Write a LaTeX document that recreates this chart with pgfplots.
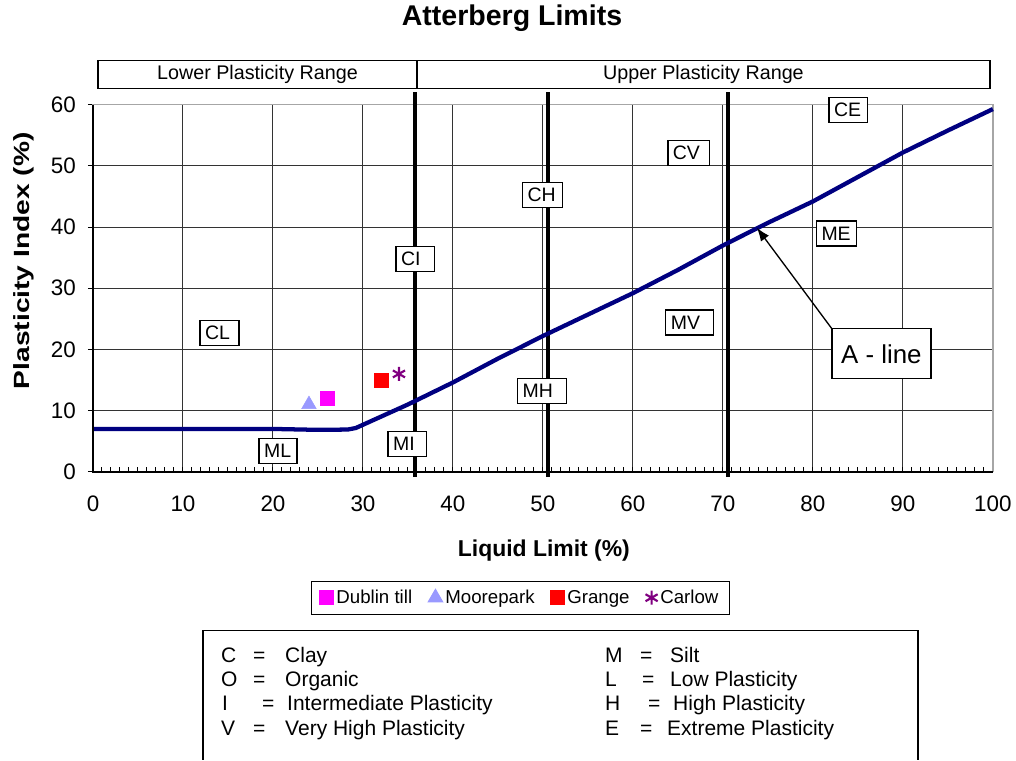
\documentclass[border=0pt]{standalone}
\usepackage{fontspec}
\setmainfont{Liberation Sans}
\usepackage{graphicx}
\usepackage{pgfplots}
\pgfplotsset{compat=1.18}
\usetikzlibrary{arrows.meta}
\definecolor{aline}{RGB}{0,0,128}
\definecolor{dublin}{RGB}{255,0,255}
\definecolor{moore}{RGB}{153,153,255}
\definecolor{grange}{RGB}{255,0,0}
\definecolor{carlow}{RGB}{128,0,128}
\newcommand{\fs}[1]{\fontsize{#1}{#1}\selectfont}
% label box: x, y, text, text width (pt)
\newcommand{\lbl}[4]{\node[draw=black, line width=1pt, fill=white, font=\fs{14.6pt}, inner xsep=3.8pt, inner ysep=0pt, minimum height=18.75pt, text width=#4, align=left] at (axis cs:#1,#2) {#3};}

\begin{document}
\begin{tikzpicture}
\begin{scope}[x=0.75pt,y=0.75pt]
\useasboundingbox (0,0) rectangle (1016,758);
\end{scope}
\begin{axis}[
  at={(69.75pt,216pt)}, anchor=south west,
  scale only axis, width=675pt, height=275.25pt,
  xmin=0, xmax=100, ymin=0, ymax=60,
  xtick={0,10,...,100}, ytick={0,10,...,60},
  minor x tick num=9,
  xtick pos=bottom, ytick pos=left,
  tick align=inside,
  major tick length=3.75pt, minor tick length=3.75pt,
  tick style={black, line width=0.75pt},
  ytick style={xshift=-3.75pt},
  grid=major,
  major grid style={black!80, line width=0.75pt},
  axis line style={gray!70, line width=1pt},
  clip=false,
  /pgf/number format/assume math mode=true,
  tick label style={font=\fs{16.8pt}},
  xticklabel style={yshift=-14.6pt},
  yticklabel style={xshift=-9.4pt},
  title={Atterberg Limits},
  title style={at={(axis description cs:0.4656,1.2153)}, anchor=center, font=\bfseries\fs{21.4pt}},
  xlabel={Liquid Limit (\%)},
  xlabel style={at={(axis description cs:0.501,-0.2153)}, anchor=center, font=\bfseries\fs{17.2pt}},
  ylabel={\scalebox{1.28}[1]{Plasticity Index (\%)}},
  ylabel style={at={(axis description cs:-0.0767,0.575)}, anchor=center, font=\bfseries\fs{16.5pt}},
  legend style={at={(axis description cs:0.475,-0.3433)}, anchor=center, draw=black, line width=0.75pt,
    font=\fs{14pt}, legend columns=4, inner xsep=6pt, inner ysep=4.5pt,
    /tikz/every even column/.append style={column sep=10pt}},
  legend image code/.code={\draw[mark repeat=2,mark phase=2,#1] plot coordinates {(0cm,0cm) (0.15cm,0cm) (0.3cm,0cm)};},
]
% thick classification boundaries
\addplot[black, line width=3.4pt, forget plot] coordinates {(35.78,-0.8) (35.78,62.1)};
\addplot[black, line width=3.4pt, forget plot] coordinates {(50.55,-0.8) (50.55,62.1)};
\addplot[black, line width=3.4pt, forget plot] coordinates {(70.55,-0.8) (70.55,62.1)};
% A-line
\addplot[aline, line width=3.2pt, line join=round, forget plot] coordinates {
(0,7) (20,7) (25,6.85) (28.3,6.9) (29.2,7.15) (35,11.0) (40,14.6) (45,18.5) (50,22.2)
(55,25.7) (60,29.2) (65,33.0) (70,37.0) (75,40.7) (80,44.2) (85,48.2) (90,52.2) (95,55.8) (100,59.3)};
% samples
\addplot[only marks, mark=square*, mark size=5.25pt, color=dublin, fill=dublin] coordinates {(26,12)};
\addlegendentry{Dublin till}
\addplot[only marks, mark=triangle*, mark size=6.3pt, color=moore, fill=moore] coordinates {(24,11)};
\addlegendentry{Moorepark}
\addplot[only marks, mark=square*, mark size=5.25pt, color=grange, fill=grange] coordinates {(32,15)};
\addlegendentry{Grange}
\addplot[only marks, mark=asterisk, mark size=5.25pt, color=carlow, line width=1.6pt] coordinates {(34,16)};
\addlegendentry{Carlow}
% axis lines left/bottom in black
\draw[black, line width=1.2pt] (rel axis cs:0,1) -- (rel axis cs:0,0) -- (rel axis cs:1,0);
% zone labels
\lbl{14.06}{22.64}{CL}{21.5pt}
\lbl{20.56}{3.35}{ML}{20.7pt}
\lbl{34.94}{4.5}{MI}{21.5pt}
\lbl{35.83}{34.75}{CI}{21.5pt}
\lbl{49.94}{45.3}{CH}{22.2pt}
\lbl{49.9}{13.24}{MH}{29pt}
\lbl{66.2}{52.1}{CV}{23.7pt}
\lbl{66.3}{24.4}{MV}{28.2pt}
\lbl{83.94}{59.2}{CE}{21.5pt}
\lbl{82.6}{38.98}{ME}{22.2pt}
\draw[line width=1pt, -{Latex[length=10pt,width=7.5pt]}] (axis cs:82.11,23.38) -- (axis cs:73.78,39.89);
\node[draw=black, line width=1pt, fill=white, font=\fs{19.4pt}, minimum width=74.25pt, minimum height=37.5pt, inner sep=0pt] at (axis cs:87.61,19.29) {A - line};
\end{axis}
\begin{scope}[x=0.75pt,y=0.75pt]
% plasticity range header
\draw[line width=1pt] (98,699) rectangle (990,671);
\draw[line width=1pt] (417,699) -- (417,671);
\node[font=\fs{14.8pt}] at (257.5,685) {Lower Plasticity Range};
\node[font=\fs{14.8pt}] at (703.5,685) {Upper Plasticity Range};
% key box
\draw[line width=1.1pt] (203,0) -- (203,129) -- (918,129) -- (918,0);
\begin{scope}[every node/.style={anchor=base west, inner sep=0pt, font=\fs{15.75pt}}]
\node at (221,97) {C}; \node at (253,97) {=}; \node at (285,97) {Clay};
\node at (605,97) {M}; \node at (640,97) {=}; \node at (670,97) {Silt};
\node at (221,73) {O}; \node at (253,73) {=}; \node at (285,73) {Organic};
\node at (605,73) {L}; \node at (642,73) {=}; \node at (670,73) {Low Plasticity};
\node at (222,49) {I}; \node at (262,49) {=}; \node at (287,49) {Intermediate Plasticity};
\node at (605,49) {H}; \node at (648,49) {=}; \node at (673,49) {High Plasticity};
\node at (221,24) {V}; \node at (253,24) {=}; \node at (285,24) {Very High Plasticity};
\node at (605,24) {E}; \node at (640,24) {=}; \node at (667,24) {Extreme Plasticity};
\end{scope}
\end{scope}
\end{tikzpicture}
\end{document}
